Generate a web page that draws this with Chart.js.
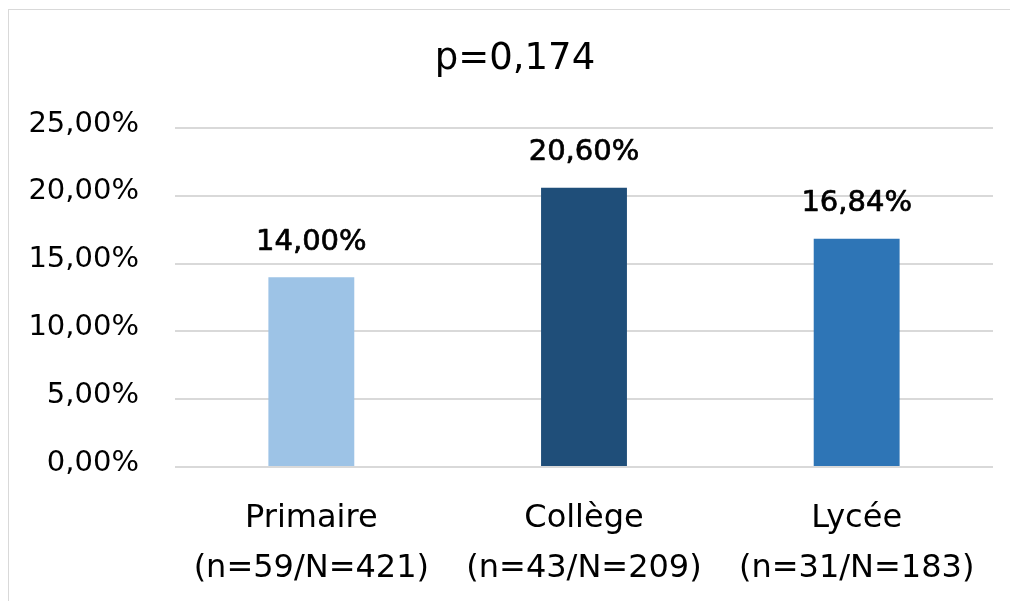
<!DOCTYPE html>
<html>
<head>
<meta charset="utf-8">
<script src="https://cdn.jsdelivr.net/npm/chart.js@4/dist/chart.umd.min.js"></script>
<style>
  html, body { margin: 0; padding: 0; background: #fff; overflow: hidden; }
  #frame {
    position: absolute; left: 8px; top: 9px;
    border-left: 1px solid #d9d9d9; border-top: 1px solid #d9d9d9;
    width: 1001px; height: 591px; overflow: hidden;
  }
  canvas { display: block; }
</style>
</head>
<body>
<div id="frame"><canvas id="c" width="1012" height="591"></canvas></div>
<script>
// Share of pupils per school level
const categories = [
  ['Primaire', '(n=59/N=421)'],
  ['Collège', '(n=43/N=209)'],
  ['Lycée', '(n=31/N=183)']
];
const values = [14.00, 20.60, 16.84];
const barColors = ['#9DC3E6', '#1F4E79', '#2E75B6'];
const titleText = 'p=0,174';
const yTicks = [0, 5, 10, 15, 20, 25];

const FONT = "'DejaVu Sans', sans-serif";
const pct = v => v.toFixed(2).replace('.', ',') + '%';

// Writes each bar's value above it, a touch heavier than the axis text
const valueLabels = {
  id: 'valueLabels',
  afterDatasetsDraw(chart) {
    const ctx = chart.ctx;
    const meta = chart.getDatasetMeta(0);
    ctx.save();
    ctx.font = '29px ' + FONT;
    ctx.fillStyle = '#000';
    ctx.strokeStyle = '#000';
    ctx.lineWidth = 0.7;
    ctx.lineJoin = 'round';
    ctx.textAlign = 'center';
    ctx.textBaseline = 'middle';
    meta.data.forEach((bar, i) => {
      const t = pct(values[i]);
      ctx.fillText(t, bar.x, bar.y - 35);
      ctx.strokeText(t, bar.x, bar.y - 35);
    });
    ctx.restore();
  }
};

// Chart heading, centred on the whole frame
const heading = {
  id: 'heading',
  afterDraw(chart) {
    const ctx = chart.ctx;
    ctx.save();
    ctx.font = '37px ' + FONT;
    ctx.fillStyle = '#000';
    ctx.textAlign = 'center';
    ctx.textBaseline = 'middle';
    ctx.fillText(titleText, chart.width / 2, 49);
    ctx.restore();
  }
};

new Chart(document.getElementById('c'), {
  type: 'bar',
  data: {
    labels: categories,
    datasets: [{
      data: values,
      backgroundColor: barColors,
      borderWidth: 0,
      barPercentage: 0.315,
      categoryPercentage: 1
    }]
  },
  options: {
    responsive: false,
    animation: false,
    layout: { padding: { left: 0, right: 28, top: 118, bottom: 0 } },
    plugins: {
      legend: { display: false },
      tooltip: { enabled: false },
      title: { display: false }
    },
    scales: {
      x: {
        grid: { display: false },
        border: { display: false },
        ticks: {
          color: '#000',
          font: { family: FONT, size: 32, lineHeight: 1.58 },
          padding: 18,
          maxRotation: 0,
          autoSkip: false
        },
        afterFit(scale) { scale.height = 134; }
      },
      y: {
        min: 0,
        max: 25,
        afterBuildTicks(scale) { scale.ticks = yTicks.map(v => ({ value: v })); },
        grid: { color: '#d9d9d9', lineWidth: 2, drawTicks: false },
        border: { display: false },
        ticks: {
          color: '#000',
          font: { family: FONT, size: 29 },
          padding: 36,
          labelOffset: -4,
          callback: v => pct(v)
        },
        afterFit(scale) { scale.width = 166; }
      }
    }
  },
  plugins: [valueLabels, heading]
});
</script>
</body>
</html>
